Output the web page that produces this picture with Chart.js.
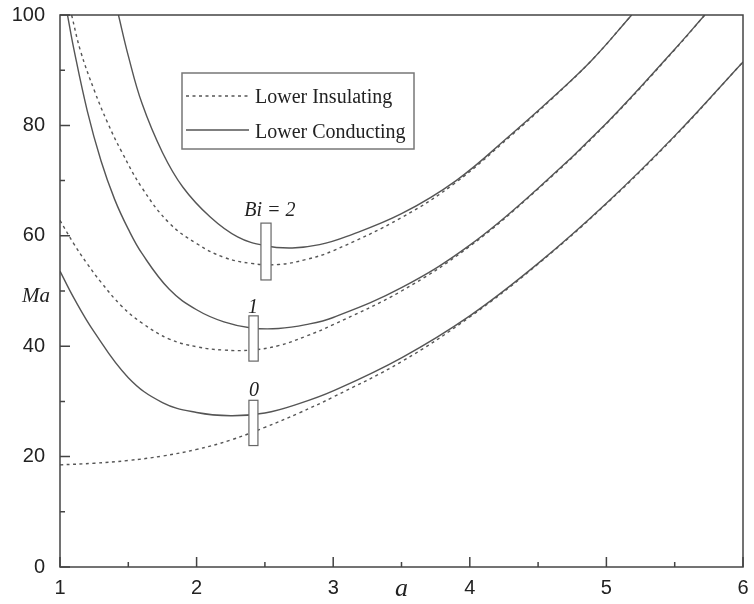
<!DOCTYPE html>
<html><head><meta charset="utf-8">
<script src="https://cdn.jsdelivr.net/npm/chart.js@4"></script>
<style>html,body{margin:0;padding:0;background:#fff}#wrap{width:754px;height:604px;position:relative}</style>
</head><body><div id="wrap"><canvas id="c" width="754" height="604"></canvas></div>
<script>
// ---- data ----
const aBi0Cond  = [1.0, 1.1, 1.25, 1.5, 1.75, 2.0, 2.25, 2.5, 2.75, 3.0, 3.5, 4.0, 4.5, 5.0, 5.5, 6.0];
const maBi0Cond = [53.6, 48.8, 42.6, 34.3, 29.8, 28.0, 27.4, 27.9, 29.6, 31.9, 37.9, 45.5, 55.0, 65.9, 78.1, 91.5];
const aBi0Ins   = [1.0, 1.25, 1.5, 1.75, 2.0, 2.25, 2.5, 2.75, 3.0, 3.5, 4.0, 4.5, 5.0, 5.5, 6.0];
const maBi0Ins  = [18.5, 18.8, 19.3, 20.1, 21.3, 23.0, 25.3, 27.9, 30.8, 37.2, 45.3, 54.9, 65.8, 78.0, 91.5];

const aBi1Cond  = [1.055, 1.1, 1.2, 1.3, 1.4, 1.5, 1.6, 1.8, 2.0, 2.2, 2.4, 2.6, 2.8, 3.0, 3.5, 4.0, 4.5, 5.0, 5.5, 5.72];
const maBi1Cond = [100, 94.0, 82.6, 73.6, 66.6, 61.2, 56.8, 50.3, 46.6, 44.4, 43.3, 43.2, 43.9, 45.2, 50.6, 58.3, 68.6, 80.4, 93.8, 100];
const aBi1Ins   = [1.0, 1.1, 1.2, 1.3, 1.45, 1.6, 1.8, 2.0, 2.2, 2.4, 2.6, 2.8, 3.0, 3.5, 4.0, 4.5, 5.0, 5.5, 5.72];
const maBi1Ins  = [62.8, 58.6, 54.9, 51.6, 47.3, 44.2, 41.3, 39.9, 39.3, 39.3, 40.1, 41.8, 43.9, 50.0, 58.1, 68.5, 80.3, 93.7, 100];

const aBi2Cond  = [1.428, 1.5, 1.6, 1.75, 1.9, 2.1, 2.3, 2.5, 2.7, 2.9, 3.1, 3.5, 3.9, 4.3, 4.6, 4.9, 5.185];
const maBi2Cond = [100, 92.6, 84.0, 75.1, 68.8, 63.4, 59.8, 58.2, 57.8, 58.4, 59.9, 64.0, 70.0, 78.3, 84.9, 92.0, 100];
const aBi2Ins   = [1.085, 1.15, 1.25, 1.35, 1.45, 1.6, 1.8, 2.0, 2.2, 2.4, 2.6, 2.8, 3.0, 3.5, 3.9, 4.3, 4.6, 4.9, 5.185];
const maBi2Ins  = [100, 93.5, 86.4, 80.4, 75.3, 68.7, 62.3, 58.6, 56.1, 55.0, 54.8, 55.7, 57.3, 63.3, 69.7, 78.1, 84.8, 92.0, 100];

const xTickValues = [1, 2, 3, 4, 5, 6];
const xMinorTicks = [1.5, 2.5, 3.5, 4.5, 5.5];
const yTickValues = [0, 20, 40, 60, 80, 100];
const yMinorTicks = [10, 30, 50, 70, 90];

const legendLabels = ['Lower Insulating', 'Lower Conducting'];
const xTitle = 'a';
const yTitle = 'Ma';

// Bi annotations (data coordinates)
const bandLabels  = ['Bi = 2', '1', '0'];
const bandLabelA  = [2.537, 2.413, 2.42];
const bandLabelMa = [63.5, 46.0, 31.0];
const bandBarA0   = [2.471, 2.383, 2.383];
const bandBarA1   = [2.545, 2.451, 2.449];
const bandBarMaLo = [52.0, 37.3, 22.0];
const bandBarMaHi = [62.3, 45.5, 30.2];

// ---- chart ----
const LINE = '#555';
const pts = (A, M) => A.map((a, i) => ({x: a, y: M[i]}));
function ds(A, M, dashed) {
  return {data: pts(A, M), borderColor: LINE, borderWidth: 1.4, pointRadius: 0,
          fill: false, tension: 0.4, borderDash: dashed ? [3, 3.5] : []};
}

const decor = {
  id: 'decor',
  afterDatasetsDraw(chart) {
    const {ctx, chartArea: ca, scales: {x, y}} = chart;
    ctx.save();
    // bars
    for (let i = 0; i < bandLabels.length; i++) {
      const x0 = x.getPixelForValue(bandBarA0[i]), x1 = x.getPixelForValue(bandBarA1[i]);
      const y0 = y.getPixelForValue(bandBarMaHi[i]), y1 = y.getPixelForValue(bandBarMaLo[i]);
      ctx.fillStyle = '#fff';
      ctx.fillRect(x0, y0, x1 - x0, y1 - y0);
      ctx.strokeStyle = '#666'; ctx.lineWidth = 1.2;
      ctx.strokeRect(x0, y0, x1 - x0, y1 - y0);
      ctx.fillStyle = '#222';
      ctx.font = 'italic 20px "Liberation Serif"';
      ctx.textAlign = 'center'; ctx.textBaseline = 'alphabetic';
      ctx.fillText(bandLabels[i], x.getPixelForValue(bandLabelA[i]), y.getPixelForValue(bandLabelMa[i]));
    }
    // frame
    ctx.strokeStyle = '#444'; ctx.lineWidth = 1.5;
    ctx.strokeRect(ca.left, ca.top, ca.right - ca.left, ca.bottom - ca.top);
    // ticks (inward)
    ctx.beginPath();
    xTickValues.forEach(v => { const p = x.getPixelForValue(v); ctx.moveTo(p, ca.bottom); ctx.lineTo(p, ca.bottom - 10); });
    xMinorTicks.forEach(v => { const p = x.getPixelForValue(v); ctx.moveTo(p, ca.bottom); ctx.lineTo(p, ca.bottom - 5); });
    yTickValues.forEach(v => { const p = y.getPixelForValue(v); ctx.moveTo(ca.left, p); ctx.lineTo(ca.left + 10, p); });
    yMinorTicks.forEach(v => { const p = y.getPixelForValue(v); ctx.moveTo(ca.left, p); ctx.lineTo(ca.left + 5, p); });
    ctx.stroke();
    // legend
    const lx = 182, ly = 73, lw = 232, lh = 76;
    ctx.fillStyle = '#fff'; ctx.fillRect(lx, ly, lw, lh);
    ctx.strokeStyle = '#777'; ctx.lineWidth = 1.5; ctx.strokeRect(lx, ly, lw, lh);
    ctx.strokeStyle = LINE; ctx.lineWidth = 1.4;
    ctx.setLineDash([3, 3.5]);
    ctx.beginPath(); ctx.moveTo(186, 96); ctx.lineTo(249, 96); ctx.stroke();
    ctx.setLineDash([]);
    ctx.beginPath(); ctx.moveTo(186, 130); ctx.lineTo(249, 130); ctx.stroke();
    ctx.fillStyle = '#222'; ctx.font = '20px "Liberation Serif"';
    ctx.textAlign = 'left'; ctx.textBaseline = 'alphabetic';
    ctx.fillText(legendLabels[0], 255, 103);
    ctx.fillText(legendLabels[1], 255, 138);
    // axis titles
    ctx.font = 'italic 21px "Liberation Serif"'; ctx.textAlign = 'center';
    ctx.fillText(yTitle, 36, 302);
    ctx.font = 'italic 26px "Liberation Serif"';
    ctx.fillText(xTitle, x.getPixelForValue(3.5), 596);
    ctx.restore();
  }
};

new Chart(document.getElementById('c'), {
  type: 'line',
  data: {datasets: [
    ds(aBi0Ins, maBi0Ins, true), ds(aBi0Cond, maBi0Cond, false),
    ds(aBi1Ins, maBi1Ins, true), ds(aBi1Cond, maBi1Cond, false),
    ds(aBi2Ins, maBi2Ins, true), ds(aBi2Cond, maBi2Cond, false)
  ]},
  options: {
    responsive: false, animation: false, devicePixelRatio: 1,
    layout: {padding: {top: 15, right: 11, left: 0, bottom: 0}},
    plugins: {legend: {display: false}, tooltip: {enabled: false}},
    scales: {
      x: {type: 'linear', min: 1, max: 6,
          afterBuildTicks: s => { s.ticks = xTickValues.map(v => ({value: v})); },
          afterFit: s => { s.height = 37; s.paddingLeft = 0; s.paddingRight = 0; },
          grid: {display: false, drawTicks: false}, border: {display: false},
          ticks: {padding: 9, color: '#222', font: {family: '"Liberation Sans"', size: 20}}},
      y: {type: 'linear', min: 0, max: 100,
          afterBuildTicks: s => { s.ticks = yTickValues.map(v => ({value: v})); },
          afterFit: s => { s.width = 60; s.paddingTop = 0; s.paddingBottom = 0; },
          grid: {display: false, drawTicks: false}, border: {display: false},
          ticks: {padding: 15, color: '#222', font: {family: '"Liberation Sans"', size: 20}}}
    }
  },
  plugins: [decor]
});
</script></body></html>
